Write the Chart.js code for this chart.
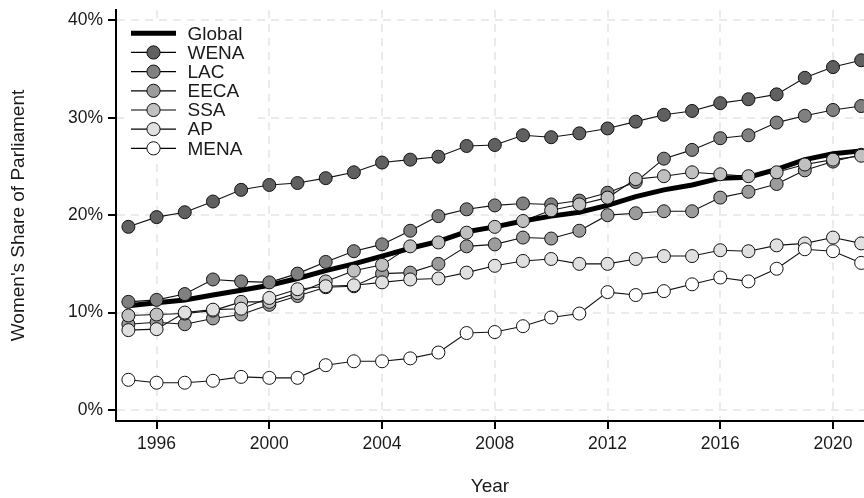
<!DOCTYPE html>
<html>
<head>
<meta charset="utf-8">
<script src="https://cdn.jsdelivr.net/npm/chart.js@4/dist/chart.umd.min.js"></script>
<style>
  html, body { margin: 0; padding: 0; background: #ffffff; }
  #wrap { width: 864px; height: 498px; }
</style>
</head>
<body>
<div id="wrap"><canvas id="chart" width="864" height="498"></canvas></div>
<script>
// Women's share of parliamentary seats by region, 1995-2021 (percent)
const years = [1995,1996,1997,1998,1999,2000,2001,2002,2003,2004,2005,2006,2007,2008,
               2009,2010,2011,2012,2013,2014,2015,2016,2017,2018,2019,2020,2021];

const globalShare = [10.7,11.0,11.3,11.8,12.3,12.8,13.5,14.3,15.0,15.8,16.6,17.3,18.3,18.8,
                     19.4,19.9,20.3,21.0,21.9,22.6,23.1,23.8,23.9,24.7,25.7,26.3,26.6];
const wena = [18.8,19.8,20.3,21.4,22.6,23.1,23.3,23.8,24.4,25.4,25.7,26.0,27.1,27.2,
              28.2,28.0,28.4,28.9,29.6,30.3,30.7,31.5,31.9,32.4,34.1,35.2,35.9];
const lac  = [11.1,11.3,11.9,13.4,13.2,13.1,14.0,15.2,16.3,17.0,18.4,19.9,20.6,21.0,
              21.2,21.1,21.5,22.3,23.4,25.8,26.7,27.9,28.2,29.5,30.2,30.8,31.2];
const eeca = [8.8,9.0,8.8,9.4,9.8,10.8,11.7,12.6,12.7,14.0,14.1,15.0,16.8,17.0,
              17.7,17.6,18.4,20.0,20.2,20.4,20.4,21.8,22.4,23.2,24.6,25.5,26.2];
const ssa  = [9.7,9.8,9.9,10.2,11.1,11.1,12.0,13.2,14.3,14.9,16.8,17.2,18.2,18.8,
              19.4,20.5,21.1,21.8,23.7,24.0,24.4,24.2,24.0,24.4,25.2,25.7,26.1];
const ap   = [8.2,8.3,10.0,10.3,10.4,11.5,12.4,12.7,12.8,13.1,13.4,13.5,14.1,14.8,
              15.3,15.5,15.0,15.0,15.5,15.8,15.8,16.4,16.3,16.9,17.1,17.7,17.1];
const mena = [3.1,2.8,2.8,3.0,3.4,3.3,3.3,4.6,5.0,5.0,5.3,5.9,7.9,8.0,
              8.6,9.5,9.9,12.1,11.8,12.2,12.9,13.6,13.2,14.5,16.5,16.3,15.1];

const regionNames  = ['WENA', 'LAC', 'EECA', 'SSA', 'AP', 'MENA'];
const regionValues = [wena, lac, eeca, ssa, ap, mena];
const regionFills  = ['#606060', '#808080', '#9c9c9c', '#c0c0c0', '#e0e0e0', '#ffffff'];

const xTickYears = [1996, 2000, 2004, 2008, 2012, 2016, 2020];
const yTickValues = [0, 10, 20, 30, 40];

const FONT = "'Liberation Sans', Arial, Helvetica, sans-serif";
const TEXT = '#1a1a1a';

const toPoints = vals => years.map((yr, i) => ({ x: yr, y: vals[i] }));

// thin connecting lines go underneath, the global line above them, the markers on top
const datasets = [];
regionNames.forEach((name, i) => {
  datasets.push({
    label: name + ' line',
    data: toPoints(regionValues[i]),
    borderColor: '#111111',
    borderWidth: 1.1,
    pointRadius: 0,
    fill: false,
    order: 20
  });
});
datasets.push({
  label: 'Global',
  data: toPoints(globalShare),
  borderColor: '#000000',
  borderWidth: 5,
  pointRadius: 0,
  fill: false,
  borderCapStyle: 'butt',
  order: 10
});
regionNames.forEach((name, i) => {
  datasets.push({
    label: name,
    data: toPoints(regionValues[i]),
    showLine: false,
    pointRadius: 6.5,
    pointBackgroundColor: regionFills[i],
    pointBorderColor: '#111111',
    pointBorderWidth: 1,
    order: 6 - i
  });
});

// legend box in the upper-left corner of the plot
const legendEntries = [{ name: 'Global', fill: null }].concat(
  regionNames.map((n, i) => ({ name: n, fill: regionFills[i] }))
);
const cornerLegend = {
  id: 'cornerLegend',
  beforeDatasetsDraw(chart) {
    const ctx = chart.ctx;
    ctx.save();
    ctx.fillStyle = '#ffffff';
    ctx.fillRect(124, 23, 134, 136);
    const rowH = 19.17;
    legendEntries.forEach((e, i) => {
      const y = 33.3 + rowH * i;
      ctx.beginPath();
      ctx.moveTo(131, y);
      ctx.lineTo(176, y);
      ctx.strokeStyle = '#000';
      ctx.lineWidth = e.fill === null ? 5 : 1.2;
      ctx.lineCap = 'butt';
      ctx.stroke();
      if (e.fill !== null) {
        ctx.beginPath();
        ctx.arc(153.5, y, 6.6, 0, Math.PI * 2);
        ctx.fillStyle = e.fill;
        ctx.fill();
        ctx.lineWidth = 1;
        ctx.strokeStyle = '#111';
        ctx.stroke();
      }
      ctx.fillStyle = TEXT;
      ctx.font = '19px ' + FONT;
      ctx.textBaseline = 'middle';
      ctx.textAlign = 'left';
      ctx.fillText(e.name, 187.5, y + 1);
    });
    ctx.restore();
  }
};

new Chart(document.getElementById('chart'), {
  type: 'line',
  data: { datasets },
  plugins: [cornerLegend],
  options: {
    responsive: false,
    animation: false,
    devicePixelRatio: 1,
    events: [],
    layout: { autoPadding: false, padding: { top: 10, right: 0, bottom: 0, left: 0 } },
    plugins: { legend: { display: false }, tooltip: { enabled: false } },
    scales: {
      x: {
        type: 'linear',
        min: 1994.56,
        max: 2021.1,
        afterBuildTicks: s => { s.ticks = xTickYears.map(v => ({ value: v })); },
        afterFit: s => { s.height = 77; s.paddingLeft = 0; s.paddingRight = 0; },
        ticks: {
          callback: v => String(v),
          font: { family: FONT, size: 17.5 },
          color: TEXT,
          padding: 5,
          maxRotation: 0
        },
        grid: {
          color: '#ebebeb',
          lineWidth: 2,
          tickLength: 8,
          tickColor: '#000',
          tickWidth: 2,
          tickBorderDash: []
        },
        border: { display: true, color: '#000', width: 2, dash: [8, 6] },
        title: {
          display: true,
          text: 'Year',
          font: { family: FONT, size: 19 },
          color: TEXT,
          padding: { top: 0, bottom: 0 }
        }
      },
      y: {
        type: 'linear',
        min: -1.13,
        max: 41.06,
        afterBuildTicks: s => { s.ticks = yTickValues.map(v => ({ value: v })); },
        afterFit: s => { s.width = 116; s.paddingTop = 0; s.paddingBottom = 0; },
        ticks: {
          callback: v => v + '%',
          font: { family: FONT, size: 17.5 },
          color: TEXT,
          padding: 5
        },
        grid: {
          color: '#ebebeb',
          lineWidth: 2,
          tickLength: 8,
          tickColor: '#000',
          tickWidth: 2,
          tickBorderDash: []
        },
        border: { display: true, color: '#000', width: 2, dash: [8, 6] },
        title: {
          display: true,
          text: "Women's Share of Parliament",
          font: { family: FONT, size: 19 },
          color: TEXT,
          padding: { top: 7, bottom: 0 }
        }
      }
    }
  }
});
</script>
</body>
</html>
